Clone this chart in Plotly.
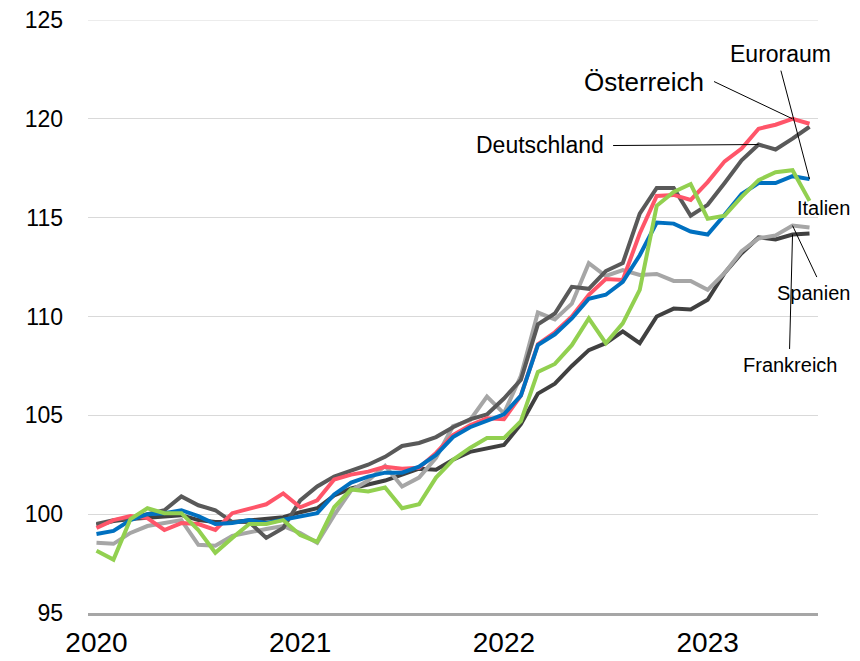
import plotly.graph_objects as go

months = [f"{y}-{m:02d}" for y in (2020, 2021, 2022, 2023) for m in range(1, 13)][:43]
year_ticks = ["2020-01", "2021-01", "2022-01", "2023-01"]
year_labels = ["2020", "2021", "2022", "2023"]
y_ticks = [95, 100, 105, 110, 115, 120, 125]

oesterreich = [99.3, 99.7, 99.9, 99.8, 99.2, 99.55, 99.5, 99.2, 100.05, 100.3, 100.5, 101.05,
               100.35, 100.7, 101.75, 102.0, 102.15, 102.4, 102.3, 102.35, 103.1, 104.0, 104.5, 104.85,
               104.8, 106.0, 108.6, 109.2, 110.0, 111.1, 111.9, 111.85, 114.2, 116.1, 116.15, 115.9,
               116.8, 117.85, 118.5, 119.5, 119.7, 120.0, 119.75]
euroraum = [99.0, 99.15, 99.7, 100.0, 100.05, 100.2, 99.9, 99.5, 99.55, 99.7, 99.55, 99.7,
            99.9, 100.05, 101.0, 101.6, 101.9, 102.1, 102.1, 102.4, 103.0, 103.9, 104.4, 104.75,
            105.05, 106.0, 108.55, 109.1, 109.9, 110.9, 111.1, 111.75, 113.1, 114.75, 114.7, 114.3,
            114.15, 115.15, 116.2, 116.75, 116.75, 117.1, 116.95]
deutschland = [99.5, 99.7, 99.8, 100.0, 100.2, 100.9, 100.45, 100.2, 99.6, 99.6, 98.8, 99.3,
               100.7, 101.4, 101.9, 102.2, 102.5, 102.9, 103.45, 103.6, 103.9, 104.4, 104.8, 105.05,
               105.85, 106.8, 109.6, 110.15, 111.5, 111.4, 112.3, 112.7, 115.2, 116.5, 116.5, 115.1,
               115.65, 116.75, 117.9, 118.7, 118.45, 119.0, 119.6]
italien = [98.15, 97.7, 99.75, 100.3, 100.05, 100.05, 99.2, 98.05, 98.8, 99.5, 99.5, 99.7,
           98.95, 98.6, 100.35, 101.25, 101.15, 101.35, 100.3, 100.5, 101.85, 102.75, 103.35, 103.85,
           103.85, 104.7, 107.2, 107.6, 108.55, 109.9, 108.65, 109.65, 111.35, 115.6, 116.3, 116.7,
           114.95, 115.1, 116.05, 116.9, 117.3, 117.4, 115.85]
spanien = [98.55, 98.5, 99.05, 99.4, 99.55, 99.7, 98.45, 98.4, 98.9, 99.1, 99.25, 99.4,
           99.05, 98.55, 99.95, 101.2, 101.7, 102.45, 101.4, 101.85, 102.85, 104.45, 104.75, 105.95,
           105.1, 107.0, 110.2, 109.85, 110.65, 112.7, 112.05, 112.35, 112.1, 112.15, 111.8, 111.8,
           111.35, 112.2, 113.3, 113.95, 114.1, 114.6, 114.5]
frankreich = [99.45, 99.65, 99.75, 99.8, 99.85, 99.95, 99.7, 99.6, 99.6, 99.7, 99.75, 99.85,
              100.1, 100.3, 100.95, 101.3, 101.5, 101.7, 102.0, 102.3, 102.25, 102.75, 103.15, 103.35,
              103.5, 104.55, 106.1, 106.6, 107.5, 108.3, 108.65, 109.25, 108.65, 110.0, 110.4, 110.35,
              110.85, 112.2, 113.2, 114.0, 113.9, 114.15, 114.2]

series = [
    ("Frankreich", frankreich, "#404040"),
    ("Spanien", spanien, "#A6A6A6"),
    ("Deutschland", deutschland, "#595959"),
    ("Österreich", oesterreich, "#FF5569"),
    ("Euroraum", euroraum, "#0070C0"),
    ("Italien", italien, "#92D050"),
]

FONT = "Liberation Sans, Arial, sans-serif"
OFF = 8  # page body margin
W, H = 860 - OFF, 661 - OFF
L, R, T, B = 80, 42, 12, 48
PW, PH = W - L - R, H - T - B

fig = go.Figure()
for name, vals, col in series:
    fig.add_trace(go.Scatter(x=months, y=vals, mode="lines", name=name,
                             line=dict(color=col, width=4), hoverinfo="skip"))

def px(x, y):
    # screen pixel -> paper coordinates
    return (x - OFF - L) / PW, (H - B - (y - OFF)) / PH

anns = []
for text, cx, cy, size in [
    ("Österreich", 644, 82, 26),
    ("Euroraum", 780, 54, 23),
    ("Deutschland", 540, 145, 23),
    ("Italien", 823, 208, 20),
    ("Spanien", 813, 293, 20),
    ("Frankreich", 790, 365, 20),
]:
    x, y = px(cx, cy)
    anns.append(dict(text=text, x=x, y=y, xref="paper", yref="paper", showarrow=False,
                     xanchor="center", yanchor="middle", font=dict(family=FONT, size=size, color="black")))

leaders = [
    (months[41], oesterreich[41], -80, -38),
    (months[42], euroraum[42], -29, -110),
    (months[39], deutschland[39], -147, 1),
    (months[41], spanien[41], 25, 53),
    (months[41], frankreich[41], -3, 116),
]
for x, y, ax, ay in leaders:
    anns.append(dict(text="", x=x, y=y, xref="x", yref="y", ax=ax, ay=ay, showarrow=True,
                     arrowhead=0, arrowwidth=1, arrowcolor="black", standoff=0, startstandoff=0))

# top gridline (plotly drops gridlines at the range edge)
fig.add_shape(type="line", xref="paper", x0=0, x1=1, yref="y", y0=y_ticks[-1], y1=y_ticks[-1],
              line=dict(color="#D9D9D9", width=1), layer="below")

fig.update_layout(
    width=W, height=H,
    margin=dict(l=L, r=R, t=T, b=B, autoexpand=False),
    paper_bgcolor="white", plot_bgcolor="white",
    showlegend=False,
    font=dict(family=FONT, color="black"),
    annotations=anns,
    xaxis=dict(type="category", range=[-0.5, 42.5], tickmode="array", tickvals=year_ticks,
               ticktext=year_labels, showgrid=False, zeroline=False, showline=True,
               linecolor="#A6A6A6", linewidth=3, ticks="", tickfont=dict(size=28),
               ticklabelstandoff=2, automargin=False, ticklabeloverflow="allow"),
    yaxis=dict(range=[95, 125], tickmode="array", tickvals=y_ticks, showgrid=True,
               gridcolor="#D9D9D9", gridwidth=1, zeroline=False, showline=False, ticks="",
               tickfont=dict(size=23), ticklabelstandoff=24, automargin=False,
               ticklabeloverflow="allow"),
)

fig.write_html("out.html")
